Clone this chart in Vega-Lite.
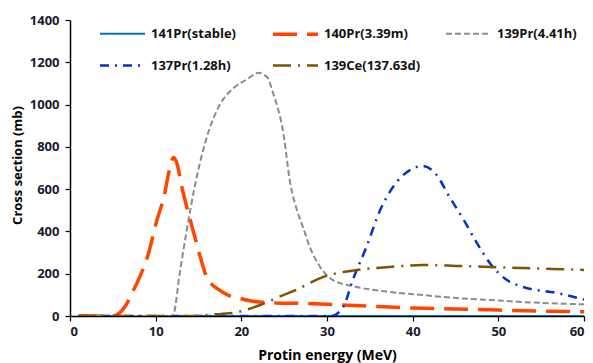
{
  "$schema": "https://vega.github.io/schema/vega-lite/v6.json",
  "width": 514,
  "height": 296,
  "autosize": {"type": "none"},
  "padding": {"left": 70, "top": 20, "right": 9, "bottom": 47},
  "background": "white",
  "config": {
    "view": {"stroke": null},
    "font": "Open Sans",
    "axis": {
      "grid": false,
      "domainColor": "#000000",
      "domainWidth": 1.5,
      "tickColor": "#000000",
      "tickSize": 5,
      "tickWidth": 1.2,
      "labelFont": "Open Sans",
      "labelFontSize": 13,
      "labelFontWeight": "bold",
      "labelColor": "#1a1a2e",
      "titleFont": "Open Sans",
      "titleFontWeight": "bold",
      "titleColor": "#000000"
    },
    "legend": {
      "orient": "none",
      "legendX": 28,
      "legendY": -10.5,
      "padding": 0,
      "columns": 3,
      "gridAlign": "all",
      "columnPadding": 18,
      "rowPadding": -19,
      "symbolType": "stroke",
      "symbolSize": 2025,
      "labelFont": "Open Sans",
      "labelFontSize": 13,
      "labelFontWeight": "bold",
      "labelColor": "#111111",
      "labelOffset": 4,
      "labelLimit": 200
    }
  },
  "data": {
    "values": [
      {"s": "141Pr(stable)", "e": 1, "cs": 0},
      {"s": "141Pr(stable)", "e": 60, "cs": 0},

      {"s": "140Pr(3.39m)", "e": 1, "cs": 0},
      {"s": "140Pr(3.39m)", "e": 5, "cs": 0},
      {"s": "140Pr(3.39m)", "e": 5.8, "cs": 15},
      {"s": "140Pr(3.39m)", "e": 6.5, "cs": 50},
      {"s": "140Pr(3.39m)", "e": 7.4, "cs": 121},
      {"s": "140Pr(3.39m)", "e": 8.2, "cs": 190},
      {"s": "140Pr(3.39m)", "e": 9, "cs": 274},
      {"s": "140Pr(3.39m)", "e": 10.1, "cs": 446},
      {"s": "140Pr(3.39m)", "e": 11, "cs": 570},
      {"s": "140Pr(3.39m)", "e": 11.6, "cs": 690},
      {"s": "140Pr(3.39m)", "e": 12.1, "cs": 750},
      {"s": "140Pr(3.39m)", "e": 12.5, "cs": 720},
      {"s": "140Pr(3.39m)", "e": 13, "cs": 620},
      {"s": "140Pr(3.39m)", "e": 13.6, "cs": 520},
      {"s": "140Pr(3.39m)", "e": 14.4, "cs": 400},
      {"s": "140Pr(3.39m)", "e": 15.2, "cs": 280},
      {"s": "140Pr(3.39m)", "e": 16, "cs": 181},
      {"s": "140Pr(3.39m)", "e": 17.5, "cs": 121},
      {"s": "140Pr(3.39m)", "e": 18.5, "cs": 98},
      {"s": "140Pr(3.39m)", "e": 19.8, "cs": 84},
      {"s": "140Pr(3.39m)", "e": 21, "cs": 72},
      {"s": "140Pr(3.39m)", "e": 22.2, "cs": 66},
      {"s": "140Pr(3.39m)", "e": 24, "cs": 62},
      {"s": "140Pr(3.39m)", "e": 26.8, "cs": 60},
      {"s": "140Pr(3.39m)", "e": 30, "cs": 55},
      {"s": "140Pr(3.39m)", "e": 35, "cs": 46},
      {"s": "140Pr(3.39m)", "e": 40, "cs": 38},
      {"s": "140Pr(3.39m)", "e": 45, "cs": 33},
      {"s": "140Pr(3.39m)", "e": 50, "cs": 28},
      {"s": "140Pr(3.39m)", "e": 55, "cs": 23},
      {"s": "140Pr(3.39m)", "e": 60, "cs": 20},

      {"s": "139Pr(4.41h)", "e": 1, "cs": 0},
      {"s": "139Pr(4.41h)", "e": 12, "cs": 0},
      {"s": "139Pr(4.41h)", "e": 12.8, "cs": 200},
      {"s": "139Pr(4.41h)", "e": 13.6, "cs": 400},
      {"s": "139Pr(4.41h)", "e": 14.6, "cs": 620},
      {"s": "139Pr(4.41h)", "e": 16, "cs": 850},
      {"s": "139Pr(4.41h)", "e": 17.5, "cs": 1000},
      {"s": "139Pr(4.41h)", "e": 19, "cs": 1075},
      {"s": "139Pr(4.41h)", "e": 20.6, "cs": 1118},
      {"s": "139Pr(4.41h)", "e": 22, "cs": 1150},
      {"s": "139Pr(4.41h)", "e": 23, "cs": 1130},
      {"s": "139Pr(4.41h)", "e": 23.7, "cs": 1055},
      {"s": "139Pr(4.41h)", "e": 24.9, "cs": 866},
      {"s": "139Pr(4.41h)", "e": 25.7, "cs": 630},
      {"s": "139Pr(4.41h)", "e": 26.5, "cs": 500},
      {"s": "139Pr(4.41h)", "e": 27.2, "cs": 420},
      {"s": "139Pr(4.41h)", "e": 28, "cs": 326},
      {"s": "139Pr(4.41h)", "e": 29.2, "cs": 232},
      {"s": "139Pr(4.41h)", "e": 30.7, "cs": 170},
      {"s": "139Pr(4.41h)", "e": 33.5, "cs": 137},
      {"s": "139Pr(4.41h)", "e": 37.3, "cs": 114},
      {"s": "139Pr(4.41h)", "e": 41.2, "cs": 99},
      {"s": "139Pr(4.41h)", "e": 45.1, "cs": 85},
      {"s": "139Pr(4.41h)", "e": 49, "cs": 76},
      {"s": "139Pr(4.41h)", "e": 52.9, "cs": 66},
      {"s": "139Pr(4.41h)", "e": 60, "cs": 55},

      {"s": "137Pr(1.28h)", "e": 1, "cs": 0},
      {"s": "137Pr(1.28h)", "e": 30.5, "cs": 0},
      {"s": "137Pr(1.28h)", "e": 31.9, "cs": 43},
      {"s": "137Pr(1.28h)", "e": 33, "cs": 170},
      {"s": "137Pr(1.28h)", "e": 34.6, "cs": 326},
      {"s": "137Pr(1.28h)", "e": 36.2, "cs": 500},
      {"s": "137Pr(1.28h)", "e": 37.7, "cs": 610},
      {"s": "137Pr(1.28h)", "e": 39.9, "cs": 695},
      {"s": "137Pr(1.28h)", "e": 41.2, "cs": 710},
      {"s": "137Pr(1.28h)", "e": 42.8, "cs": 667},
      {"s": "137Pr(1.28h)", "e": 44.3, "cs": 563},
      {"s": "137Pr(1.28h)", "e": 45.9, "cs": 459},
      {"s": "137Pr(1.28h)", "e": 47.5, "cs": 345},
      {"s": "137Pr(1.28h)", "e": 49, "cs": 251},
      {"s": "137Pr(1.28h)", "e": 51, "cs": 170},
      {"s": "137Pr(1.28h)", "e": 52.9, "cs": 137},
      {"s": "137Pr(1.28h)", "e": 56.8, "cs": 109},
      {"s": "137Pr(1.28h)", "e": 60, "cs": 78},

      {"s": "139Ce(137.63d)", "e": 1, "cs": 0},
      {"s": "139Ce(137.63d)", "e": 15, "cs": 0},
      {"s": "139Ce(137.63d)", "e": 16, "cs": 5},
      {"s": "139Ce(137.63d)", "e": 19, "cs": 14},
      {"s": "139Ce(137.63d)", "e": 22.2, "cs": 52},
      {"s": "139Ce(137.63d)", "e": 24.9, "cs": 99},
      {"s": "139Ce(137.63d)", "e": 26.2, "cs": 120},
      {"s": "139Ce(137.63d)", "e": 29.5, "cs": 184},
      {"s": "139Ce(137.63d)", "e": 33.5, "cs": 218},
      {"s": "139Ce(137.63d)", "e": 37.3, "cs": 232},
      {"s": "139Ce(137.63d)", "e": 41.2, "cs": 241},
      {"s": "139Ce(137.63d)", "e": 45.1, "cs": 237},
      {"s": "139Ce(137.63d)", "e": 49, "cs": 232},
      {"s": "139Ce(137.63d)", "e": 52.9, "cs": 227},
      {"s": "139Ce(137.63d)", "e": 60, "cs": 218}
    ]
  },
  "mark": {"type": "line", "interpolate": "monotone", "clip": true},
  "encoding": {
    "x": {
      "field": "e", "type": "quantitative",
      "scale": {"domain": [0, 60], "nice": false},
      "axis": {
        "values": [0, 10, 20, 30, 40, 50, 60],
        "title": "Protin energy (MeV)",
        "titleFontSize": 14,
        "titleBaseline": "alphabetic",
        "titleY": 43,
        "labelPadding": 4
      }
    },
    "y": {
      "field": "cs", "type": "quantitative",
      "scale": {"domain": [0, 1400], "nice": false},
      "axis": {
        "values": [0, 200, 400, 600, 800, 1000, 1200, 1400],
        "format": "d",
        "title": "Cross section (mb)",
        "titleFontSize": 13,
        "titleAngle": -90,
        "titleX": -53,
        "titleY": 145,
        "titleAlign": "center",
        "titleBaseline": "middle",
        "labelPadding": 6
      }
    },
    "color": {
      "field": "s", "type": "nominal",
      "scale": {
        "domain": ["141Pr(stable)", "137Pr(1.28h)", "140Pr(3.39m)", "139Ce(137.63d)", "139Pr(4.41h)"],
        "range": ["#0070C0", "#0033CC", "#FF4500", "#7F5200", "#8C8C8C"]
      },
      "legend": {"title": null}
    },
    "strokeDash": {
      "field": "s", "type": "nominal",
      "scale": {
        "domain": ["141Pr(stable)", "137Pr(1.28h)", "140Pr(3.39m)", "139Ce(137.63d)", "139Pr(4.41h)"],
        "range": [[1, 0], [9, 6, 2, 6], [24, 10], [18, 7, 2, 7], [6, 3]]
      },
      "legend": {"title": null}
    },
    "strokeWidth": {
      "field": "s", "type": "nominal",
      "scale": {
        "type": "ordinal",
        "domain": ["141Pr(stable)", "137Pr(1.28h)", "140Pr(3.39m)", "139Ce(137.63d)", "139Pr(4.41h)"],
        "range": [2, 2.5, 3.5, 2.5, 2]
      },
      "legend": {"title": null}
    },
    "order": {"field": "e", "type": "quantitative"}
  }
}
